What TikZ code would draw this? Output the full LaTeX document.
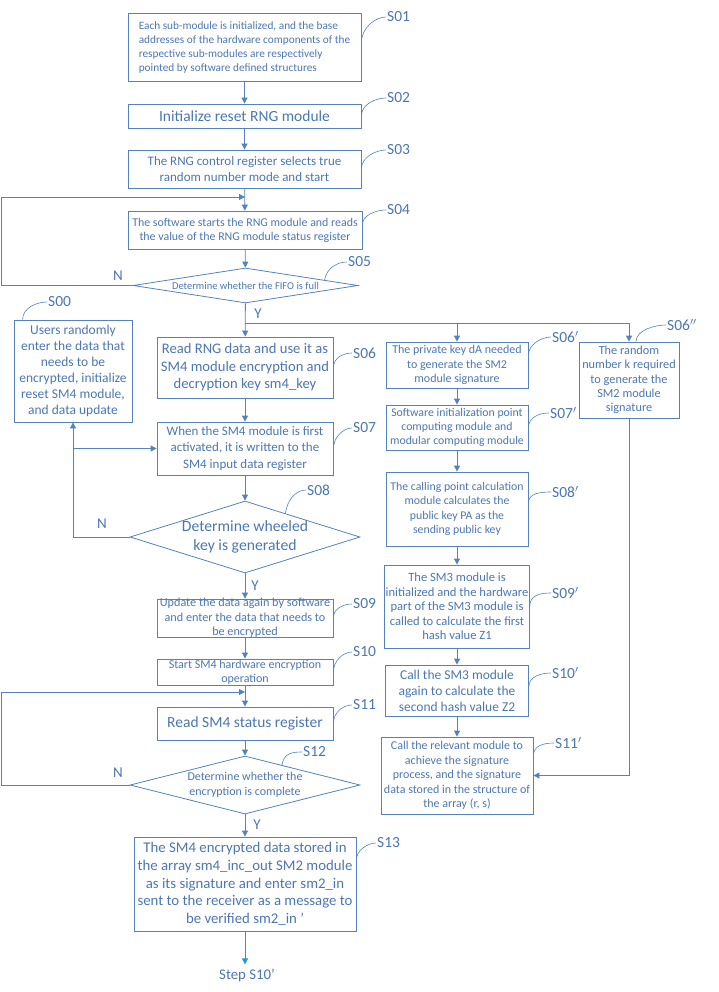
\documentclass[tikz,border=0pt]{standalone}
\usepackage{fontspec}
\setmainfont{Carlito}
\usetikzlibrary{arrows.meta,shapes.geometric,calc}
\definecolor{flowline}{RGB}{84,130,189}
\definecolor{flowtext}{RGB}{76,118,178}
\definecolor{skyline}{RGB}{32,152,222}

\begin{document}
\begin{tikzpicture}[x=1pt,y=-1pt,
  every node/.style={text=flowtext},
  stepbox/.style={draw=flowline,line width=0.8pt,rectangle,inner sep=1pt,align=center},
  decide/.style={draw=flowline,line width=0.8pt,diamond,inner sep=0pt,align=center},
  tag/.style={inner sep=1pt,anchor=west,font=\fontsize{15.5}{15.5}\selectfont},
  yn/.style={inner sep=0pt,font=\fontsize{15}{15}\selectfont},
  arr/.style={draw=flowline,line width=0.8pt,-{Triangle[length=6pt,width=6pt]}},
  wire/.style={draw=flowline,line width=0.8pt},
  lead/.style={draw=flowline,line width=0.6pt}]
\useasboundingbox (0,0) rectangle (718,992);

% main column
\node[stepbox,minimum width=233pt,minimum height=68pt,align=left,font=\fontsize{11.3}{14}\selectfont] (s01) at (244.5,47)
  {Each sub-module is initialized, and the base\\addresses of the hardware components of the\\respective sub-modules are respectively\\pointed by software defined structures};
\node[stepbox,minimum width=233pt,minimum height=24pt,font=\fontsize{15.5}{17}\selectfont] (s02) at (244.5,116)
  {Initialize reset RNG module};
\node[stepbox,minimum width=233pt,minimum height=38pt,font=\fontsize{13}{16}\selectfont] (s03) at (244.5,169)
  {The RNG control register selects true\\random number mode and start};
\node[stepbox,minimum width=234pt,minimum height=38pt,font=\fontsize{11.9}{14}\selectfont] (s04) at (245,230)
  {The software starts the RNG module and reads\\the value of the RNG module status register};
\node[decide,minimum width=225pt,minimum height=35pt,aspect=6.5,font=\fontsize{10.5}{12}\selectfont] (s05) at (245.5,285.5)
  {Determine whether the FIFO is full};
\node[stepbox,minimum width=176pt,minimum height=61pt,font=\fontsize{14.6}{17.5}\selectfont] (s06) at (245,367.5)
  {Read RNG data and use it as\\SM4 module encryption and\\decryption key sm4\_key};
\node[stepbox,minimum width=176pt,minimum height=53pt,font=\fontsize{13}{16.5}\selectfont] (s07) at (245,448.5)
  {When the SM4 module is first\\activated, it is written to the\\SM4 input data register};
\node[decide,minimum width=230pt,minimum height=72pt,aspect=3.2,inner sep=-5pt,font=\fontsize{15.7}{19}\selectfont] (s08) at (245,537)
  {Determine wheeled\\key is generated};
\node[stepbox,minimum width=176pt,minimum height=38pt,inner ysep=-2.5pt,font=\fontsize{12.2}{14.5}\selectfont] (s09) at (245,618)
  {Update the data again by software\\and enter the data that needs to\\be encrypted};
\node[stepbox,minimum width=176pt,minimum height=26pt,inner ysep=-1pt,font=\fontsize{12}{14}\selectfont] (s10) at (245,672)
  {Start SM4 hardware encryption\\operation};
\node[stepbox,minimum width=176pt,minimum height=33pt,font=\fontsize{15.5}{17}\selectfont] (s11) at (245,723.5)
  {Read SM4 status register};
\node[decide,minimum width=230pt,minimum height=58pt,aspect=4,inner sep=-3pt,font=\fontsize{12}{15}\selectfont] (s12) at (245,785)
  {Determine whether the\\encryption is complete};
\node[stepbox,minimum width=222pt,minimum height=94pt,font=\fontsize{14.8}{17.8}\selectfont] (s13) at (245,884)
  {The SM4 encrypted data stored in\\the array sm4\_inc\_out SM2 module\\as its signature and enter sm2\_in\\sent to the receiver as a message to\\be verified sm2\_in '};
\node[inner sep=4pt,font=\fontsize{14.8}{16}\selectfont] (nextstep) at (247,975) {Step S10'};

% left box
\node[stepbox,minimum width=118pt,minimum height=102pt,font=\fontsize{13.5}{16}\selectfont] (s00) at (73,371)
  {Users randomly\\enter the data that\\needs to be\\encrypted, initialize\\reset SM4 module,\\and data update};

% right column
\node[stepbox,minimum width=142pt,minimum height=46pt,font=\fontsize{12}{14.5}\selectfont] (r06) at (457,365)
  {The private key dA needed\\to generate the SM2\\module signature};
\node[stepbox,minimum width=100pt,minimum height=76pt,font=\fontsize{12.3}{14.3}\selectfont] (r06b) at (629,380)
  {The random\\number k required\\to generate the\\SM2 module\\signature};
\node[stepbox,minimum width=142pt,minimum height=45pt,font=\fontsize{11.8}{14}\selectfont] (r07) at (457,427.5)
  {Software initialization point\\computing module and\\modular computing module};
\node[stepbox,minimum width=142pt,minimum height=74pt,font=\fontsize{11.8}{14.5}\selectfont] (r08) at (457,509)
  {The calling point calculation\\module calculates the\\public key PA as the\\sending public key};
\node[stepbox,minimum width=143pt,minimum height=83pt,font=\fontsize{12.6}{14.5}\selectfont] (r09) at (457,606.5)
  {The SM3 module is\\initialized and the hardware\\part of the SM3 module is\\called to calculate the first\\hash value Z1};
\node[stepbox,minimum width=143pt,minimum height=51pt,font=\fontsize{13.5}{16}\selectfont] (r10) at (457,690.5)
  {Call the SM3 module\\again to calculate the\\second hash value Z2};
\node[stepbox,minimum width=152pt,minimum height=77pt,font=\fontsize{12}{14.5}\selectfont] (r11) at (457,775.5)
  {Call the relevant module to\\achieve the signature\\process, and the signature\\data stored in the structure of\\the array (r, s)};

% step tags
\node[tag] (l01) at (386,17) {S01};
\node[tag] (l02) at (386,98) {S02};
\node[tag] (l03) at (386,150) {S03};
\node[tag] (l04) at (386,210) {S04};
\node[tag] (l05) at (347,262) {S05};
\node[tag] (l00) at (47,302) {S00};
\node[tag] (l06) at (352,353) {S06};
\node[tag] (l07) at (352,428) {S07};
\node[tag] (l08) at (306,490) {S08};
\node[tag] (l09) at (352,604) {S09};
\node[tag] (l10) at (352,652) {S10};
\node[tag] (l11) at (352,705) {S11};
\node[tag] (l12) at (302,752) {S12};
\node[tag] (l13) at (376,843) {S13};
\node[tag] (m06) at (551,337) {S06$'$};
\node[tag] (m06b) at (666,325) {S06$''$};
\node[tag] (m07) at (549,413) {S07$'$};
\node[tag] (m08) at (551,492) {S08$'$};
\node[tag] (m09) at (551,593) {S09$'$};
\node[tag] (m10) at (551,673) {S10$'$};
\node[tag] (m11) at (554,743) {S11$'$};

% Y / N
\node[yn] (n05) at (118,276) {N};
\node[yn] (y05) at (258,314) {Y};
\node[yn] (n08) at (102,524) {N};
\node[yn] (y08) at (255,586) {Y};
\node[yn] (n12) at (118,773) {N};
\node[yn] (y12) at (257,825) {Y};

% main flow
\draw[arr] (s01) -- (s02);
\draw[arr] (s02) -- (s03);
\draw[arr] (s03) -- (s04);
\draw[arr] (s04) -- (s05);
\draw[arr] (s05) -- (s06);
\draw[arr] (s06) -- (s07);
\draw[arr] (s07) -- (s08);
\draw[arr] (s08) -- (s09);
\draw[arr] (s09) -- (s10);
\draw[arr] (s10) -- (s11);
\draw[arr] (s11) -- (s12);
\draw[arr] (s12) -- (s13);
\draw[arr,draw=skyline] (s13) -- (s13 |- nextstep.north);

% loops
\coordinate (k1) at (1,197);
\coordinate (j1) at (245,197);
\draw[arr] (s05.west) -| (k1) -- (j1);
\draw[arr] (s08.west) -| (s00.south);
\coordinate (j2) at (73,448.5);
\draw[arr] (j2) -- (s07.west);
\coordinate (k3) at (1,692);
\coordinate (j3) at (245,692);
\draw[arr] (s12.west) -| (k3) -- (j3);

% branch to the right
\coordinate (j4) at (245,323);
\draw[arr] (j4) -| (r06b);
\draw[arr] (r06 |- j4) -- (r06);
\draw[arr] (r06) -- (r07);
\draw[arr] (r07) -- (r08);
\draw[arr] (r08) -- (r09);
\draw[arr] (r09) -- (r10);
\draw[arr] (r10) -- (r11);
\draw[arr] (r06b) |- (r11);

% tag leaders
\draw[lead] ($(s01.east)+(0,-4)$) .. controls +(0,-16) and +(-10,0) .. (l01.west);
\draw[lead] (s02.east) .. controls +(0,-12) and +(-10,0) .. (l02.west);
\draw[lead] (s03.east) .. controls +(0,-12) and +(-10,0) .. (l03.west);
\draw[lead] ($(s04.east)+(0,-5)$) .. controls +(0,-10) and +(-10,0) .. (l04.west);
\draw[lead] ($(s05.north)!0.7!(s05.east)$) .. controls +(2,-12) and +(-10,0) .. (l05.west);
\draw[lead] ($(s00.north west)+(9,0)$) .. controls +(0,-12) and +(-10,0) .. (l00.west);
\draw[lead] (s06.east) .. controls +(0,-10) and +(-8,0) .. (l06.west);
\draw[lead] (s07.east) .. controls +(0,-12) and +(-8,0) .. (l07.west);
\draw[lead] ($(s08.north)!0.35!(s08.east)$) .. controls +(2,-14) and +(-10,0) .. (l08.west);
\draw[lead] (s09.east) .. controls +(0,-10) and +(-8,0) .. (l09.west);
\draw[lead] (s10.east) .. controls +(0,-12) and +(-8,0) .. (l10.west);
\draw[lead] (s11.east) .. controls +(0,-12) and +(-8,0) .. (l11.west);
\draw[lead] ($(s12.north)!0.32!(s12.east)$) .. controls +(2,-12) and +(-10,0) .. (l12.west);
\draw[lead] ($(s13.east)+(0,-24)$) .. controls +(0,-10) and +(-8,0) .. (l13.west);
\draw[lead] ($(r06.east)+(0,-10)$) .. controls +(0,-10) and +(-10,0) .. (m06.west);
\draw[lead] ($(r06b.north)+(7,0)$) .. controls +(0,-12) and +(-10,0) .. (m06b.west);
\draw[lead] (r07.east) .. controls +(0,-10) and +(-10,0) .. (m07.west);
\draw[lead] ($(r08.east)+(0,-6)$) .. controls +(0,-10) and +(-10,0) .. (m08.west);
\draw[lead] (r09.east) .. controls +(0,-12) and +(-10,0) .. (m09.west);
\draw[lead] ($(r10.east)+(0,-4)$) .. controls +(0,-10) and +(-10,0) .. (m10.west);
\draw[lead] ($(r11.east)+(0,-20)$) .. controls +(0,-10) and +(-10,0) .. (m11.west);
\end{tikzpicture}
\end{document}
